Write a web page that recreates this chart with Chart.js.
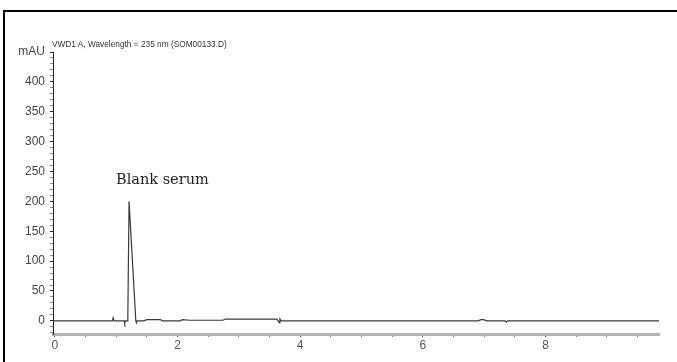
<!DOCTYPE html>
<html>
<head>
<meta charset="utf-8">
<script src="https://cdn.jsdelivr.net/npm/chart.js@4"></script>
<style>
  html, body { margin:0; padding:0; background:#fff; overflow:hidden; }
  #wrap { position:relative; width:677px; height:362px; }
  #frame { position:absolute; left:3px; top:10px; width:700px; height:400px;
           border-left:2px solid #000; border-top:2px solid #000; }
  #chart { position:absolute; left:0; top:0; }
  .title { position:absolute; left:52px; top:39px; font:8.3px "Liberation Sans", Arial, sans-serif; color:#333; white-space:nowrap; }
  .note { position:absolute; left:116px; top:171px; font:14.5px "DejaVu Serif", serif; color:#1e1e1e; white-space:nowrap; }
</style>
</head>
<body>
<div id="wrap">
  <div id="frame"></div>
  <canvas id="chart" width="677" height="362"></canvas>
  <div class="title">VWD1 A, Wavelength = 235 nm (SOM00133.D)</div>
  <div class="note">Blank serum</div>
</div>
<script>
'use strict';

// retention time (min) and absorbance (mAU)
const TIME = [-0.03, 0.94, 0.95, 0.96, 0.97, 1.13, 1.14, 1.15, 1.18, 1.19, 1.21, 1.32, 1.33, 1.34,
              1.45, 1.5, 1.72, 1.76, 2.04, 2.08, 2.2, 2.74, 2.78, 3.62, 3.66, 3.67, 3.69,
              6.9, 6.95, 6.99, 7.04, 7.34, 7.36, 7.38, 9.85];
const MAU  = [0, 0, 5, 5, 0, 0, -4, 0, 0, 5, 200, 0, -3, 0,
              0, 2, 2, 0, 0, 2, 1, 1, 3, 3, -3, 3, 0,
              0, 2, 2, 0, 0, -2, 0, 0];

const X_TICKS = [0, 0.5, 1, 1.5, 2, 2.5, 3, 3.5, 4, 4.5, 5, 5.5, 6, 6.5, 7, 7.5, 8, 8.5, 9, 9.5];
const X_LABELS = [0, 2, 4, 6, 8];
const Y_TICKS = [-20, -10, 0, 10, 20, 30, 40, 50, 60, 70, 80, 90, 100, 110, 120, 130, 140, 150,
                 160, 170, 180, 190, 200, 210, 220, 230, 240, 250, 260, 270, 280, 290, 300,
                 310, 320, 330, 340, 350, 360, 370, 380, 390, 400, 410, 420, 430, 440, 450];
const Y_LABELS = [0, 50, 100, 150, 200, 250, 300, 350, 400];
const Y_UNIT_AT = 450;

const tickFont = { family: '"Liberation Sans", Arial, sans-serif', size: 12 };

new Chart(document.getElementById('chart'), {
  type: 'line',
  data: {
    datasets: [{
      data: TIME.map((t, i) => ({ x: t, y: MAU[i] })),
      borderColor: '#3a3a3a',
      borderWidth: 1.2,
      pointRadius: 0,
      tension: 0,
      fill: false
    }]
  },
  options: {
    responsive: false,
    animation: false,
    events: [],
    layout: { padding: { top: 52, right: 18, left: 0, bottom: 0 } },
    plugins: { legend: { display: false }, tooltip: { enabled: false } },
    scales: {
      x: {
        type: 'linear', min: -0.03, max: 9.85,
        afterFit: s => { s.height = 28; },
        afterBuildTicks: s => { s.ticks = X_TICKS.map(v => ({ value: v })); },
        ticks: {
          autoSkip: false, maxRotation: 0, padding: 1, color: '#555', font: tickFont,
          callback: v => X_LABELS.includes(v) ? String(v) : ''
        },
        grid: {
          drawOnChartArea: false, tickLength: 3,
          tickColor: c => X_LABELS.includes(c.tick && c.tick.value) ? '#444' : '#777'
        },
        border: { color: '#b4b4b4', width: 3 }
      },
      y: {
        min: -22, max: 450,
        afterFit: s => { s.width = 53; },
        afterBuildTicks: s => { s.ticks = Y_TICKS.map(v => ({ value: v })); },
        ticks: {
          autoSkip: false, padding: 5, color: '#444', font: tickFont,
          callback: v => v === Y_UNIT_AT ? 'mAU' : (Y_LABELS.includes(v) ? String(v) : '')
        },
        grid: {
          drawOnChartArea: false,
          tickLength: 3,
          tickColor: c => (c.tick && c.tick.value % 50 === 0) ? '#222' : '#888'
        },
        border: { color: '#222', width: 1 }
      }
    }
  }
});
</script>
</body>
</html>
